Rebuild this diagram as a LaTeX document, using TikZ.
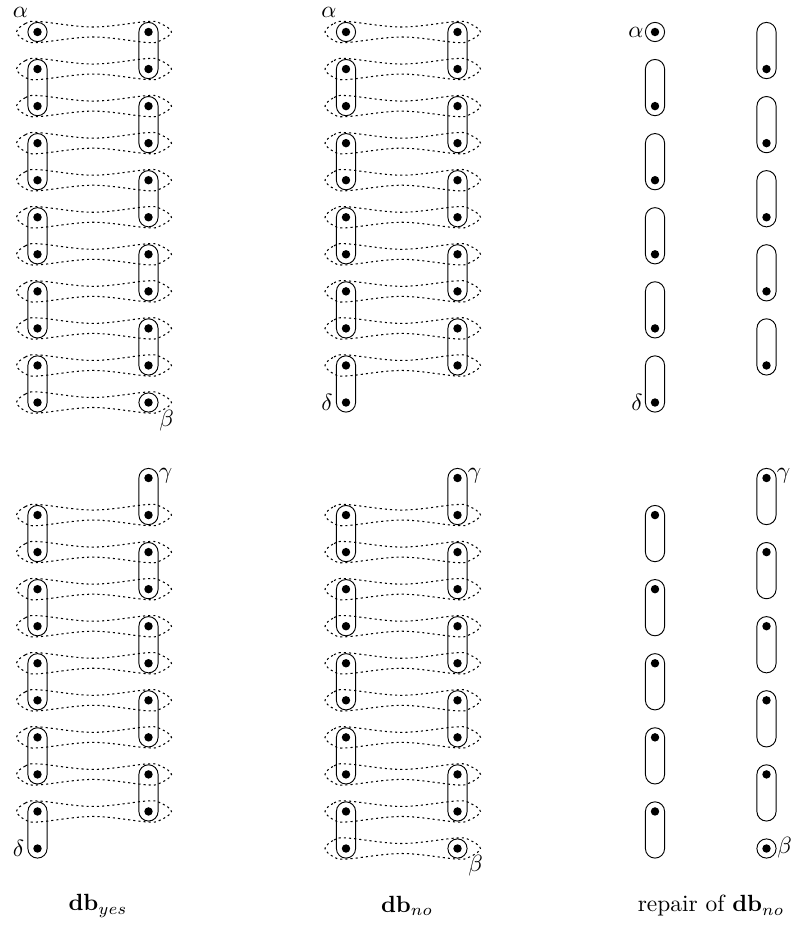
\documentclass[tikz,border=0pt]{standalone}
\usepackage{amsmath}
\usetikzlibrary{calc}
\tikzset{
  dot/.style={circle, fill=black, inner sep=0pt, minimum size=3.6pt},
  ring/.style={circle, draw, thin, inner sep=0pt, minimum size=8.2pt},
  pill/.style={draw, thin, rounded corners=4.1pt},
  link/.style={line width=0.45pt, dash pattern=on 0.9pt off 1.3pt},
  tag/.style={inner sep=0pt},
  caption/.style={inner sep=1pt},
}
% stadium round two positions of one column
\newcommand{\pairpill}[2]{\draw[pill] ($(#1)+(-9.6,-9.6)$) rectangle ($(#2)+(9.6,9.6)$);}
% dotted outline round the two positions of one row
\newcommand{\rowlink}[2]{\draw[link] plot[smooth cycle, tension=0.6] coordinates {
  ($(#1-l-#2)+(-21,0)$) ($(#1-l-#2)+(-12,-8.5)$) ($(#1-l-#2)+(1,-10.5)$)
  ($(#1-l-#2)!0.5!(#1-r-#2)+(0,-5)$)
  ($(#1-r-#2)+(-1,-10.5)$) ($(#1-r-#2)+(12,-8.5)$) ($(#1-r-#2)+(23,0)$)
  ($(#1-r-#2)+(12,8.5)$) ($(#1-r-#2)+(-1,10.5)$)
  ($(#1-l-#2)!0.5!(#1-r-#2)+(0,5)$)
  ($(#1-l-#2)+(1,10.5)$) ($(#1-l-#2)+(-12,8.5)$)};}

\begin{document}
\begin{tikzpicture}[x=0.015cm, y=-0.015cm]
  \useasboundingbox (0,0) rectangle (793,925);
  % positions: panel, column, row
  \foreach \p/\lx/\rx/\y in {ya/37.5/148.5/32, na/346/457.5/32, ra/655/766.5/32,
                             yb/37.5/148.5/478, nb/346/457.5/478, rb/655/766.5/478}
    \foreach \i in {1,...,11} {
      \coordinate (\p-l-\i) at (\lx,{\y+37.05*(\i-1)});
      \coordinate (\p-r-\i) at (\rx,{\y+37.05*(\i-1)});
    }

  % db_yes, upper half
  \foreach \i in {1,...,11} {\rowlink{ya}{\i}}
  \foreach \a/\b in {2/3,4/5,6/7,8/9,10/11} {\pairpill{ya-l-\a}{ya-l-\b}}
  \foreach \a/\b in {1/2,3/4,5/6,7/8,9/10} {\pairpill{ya-r-\a}{ya-r-\b}}
  \node[ring] (ya-ra) at (ya-l-1) {};
  \node[ring] (ya-rb) at (ya-r-11) {};
  \foreach \i in {1,...,11} {
    \node[dot] (ya-dl-\i) at (ya-l-\i) {};
    \node[dot] (ya-dr-\i) at (ya-r-\i) {};
  }
  \node[tag] (ya-alpha) at ($(ya-l-1)+(-17,-20)$) {$\alpha$};
  \node[tag] (ya-beta) at ($(ya-r-11)+(18,18)$) {$\beta$};

  % db_no, upper half
  \foreach \i in {1,...,10} {\rowlink{na}{\i}}
  \foreach \a/\b in {2/3,4/5,6/7,8/9,10/11} {\pairpill{na-l-\a}{na-l-\b}}
  \foreach \a/\b in {1/2,3/4,5/6,7/8,9/10} {\pairpill{na-r-\a}{na-r-\b}}
  \node[ring] (na-ra) at (na-l-1) {};
  \foreach \i in {1,...,11} {\node[dot] (na-dl-\i) at (na-l-\i) {};}
  \foreach \i in {1,...,10} {\node[dot] (na-dr-\i) at (na-r-\i) {};}
  \node[tag] (na-alpha) at ($(na-l-1)+(-17,-20)$) {$\alpha$};
  \node[tag] (na-delta) at ($(na-l-11)+(-19,0)$) {$\delta$};

  % repair, upper half
  \foreach \a/\b in {2/3,4/5,6/7,8/9,10/11} {\pairpill{ra-l-\a}{ra-l-\b}}
  \foreach \a/\b in {1/2,3/4,5/6,7/8,9/10} {\pairpill{ra-r-\a}{ra-r-\b}}
  \node[ring] (ra-ra) at (ra-l-1) {};
  \foreach \i in {1,3,5,7,9,11} {\node[dot] (ra-dl-\i) at (ra-l-\i) {};}
  \foreach \i in {2,4,6,8,10} {\node[dot] (ra-dr-\i) at (ra-r-\i) {};}
  \node[tag] (ra-alpha) at ($(ra-l-1)+(-19,0)$) {$\alpha$};
  \node[tag] (ra-delta) at ($(ra-l-11)+(-18,0)$) {$\delta$};

  % db_yes, lower half
  \foreach \i in {2,...,10} {\rowlink{yb}{\i}}
  \foreach \a/\b in {2/3,4/5,6/7,8/9,10/11} {\pairpill{yb-l-\a}{yb-l-\b}}
  \foreach \a/\b in {1/2,3/4,5/6,7/8,9/10} {\pairpill{yb-r-\a}{yb-r-\b}}
  \foreach \i in {2,...,11} {\node[dot] (yb-dl-\i) at (yb-l-\i) {};}
  \foreach \i in {1,...,10} {\node[dot] (yb-dr-\i) at (yb-r-\i) {};}
  \node[tag] (yb-gamma) at ($(yb-r-1)+(17,-2)$) {$\gamma$};
  \node[tag] (yb-delta) at ($(yb-l-11)+(-19,0)$) {$\delta$};

  % db_no, lower half
  \foreach \i in {2,...,11} {\rowlink{nb}{\i}}
  \foreach \a/\b in {2/3,4/5,6/7,8/9,10/11} {\pairpill{nb-l-\a}{nb-l-\b}}
  \foreach \a/\b in {1/2,3/4,5/6,7/8,9/10} {\pairpill{nb-r-\a}{nb-r-\b}}
  \node[ring] (nb-rb) at (nb-r-11) {};
  \foreach \i in {2,...,11} {\node[dot] (nb-dl-\i) at (nb-l-\i) {};}
  \foreach \i in {1,...,11} {\node[dot] (nb-dr-\i) at (nb-r-\i) {};}
  \node[tag] (nb-gamma) at ($(nb-r-1)+(17,-2)$) {$\gamma$};
  \node[tag] (nb-beta) at ($(nb-r-11)+(18,17)$) {$\beta$};

  % repair, lower half
  \foreach \a/\b in {2/3,4/5,6/7,8/9,10/11} {\pairpill{rb-l-\a}{rb-l-\b}}
  \foreach \a/\b in {1/2,3/4,5/6,7/8,9/10} {\pairpill{rb-r-\a}{rb-r-\b}}
  \node[ring] (rb-rb) at (rb-r-11) {};
  \foreach \i in {2,4,6,8,10} {\node[dot] (rb-dl-\i) at (rb-l-\i) {};}
  \foreach \i in {1,3,5,7,9,11} {\node[dot] (rb-dr-\i) at (rb-r-\i) {};}
  \node[tag] (rb-gamma) at ($(rb-r-1)+(17,-2)$) {$\gamma$};
  \node[tag] (rb-beta) at ($(rb-r-11)+(18,-1)$) {$\beta$};

  % captions
  \node[caption] (cap-yes) at (98,906) {$\mathbf{db}_{yes}$};
  \node[caption] (cap-no) at (407,906) {$\mathbf{db}_{no}$};
  \node[caption] (cap-rep) at (711,906) {repair of $\mathbf{db}_{no}$};
\end{tikzpicture}
\end{document}
